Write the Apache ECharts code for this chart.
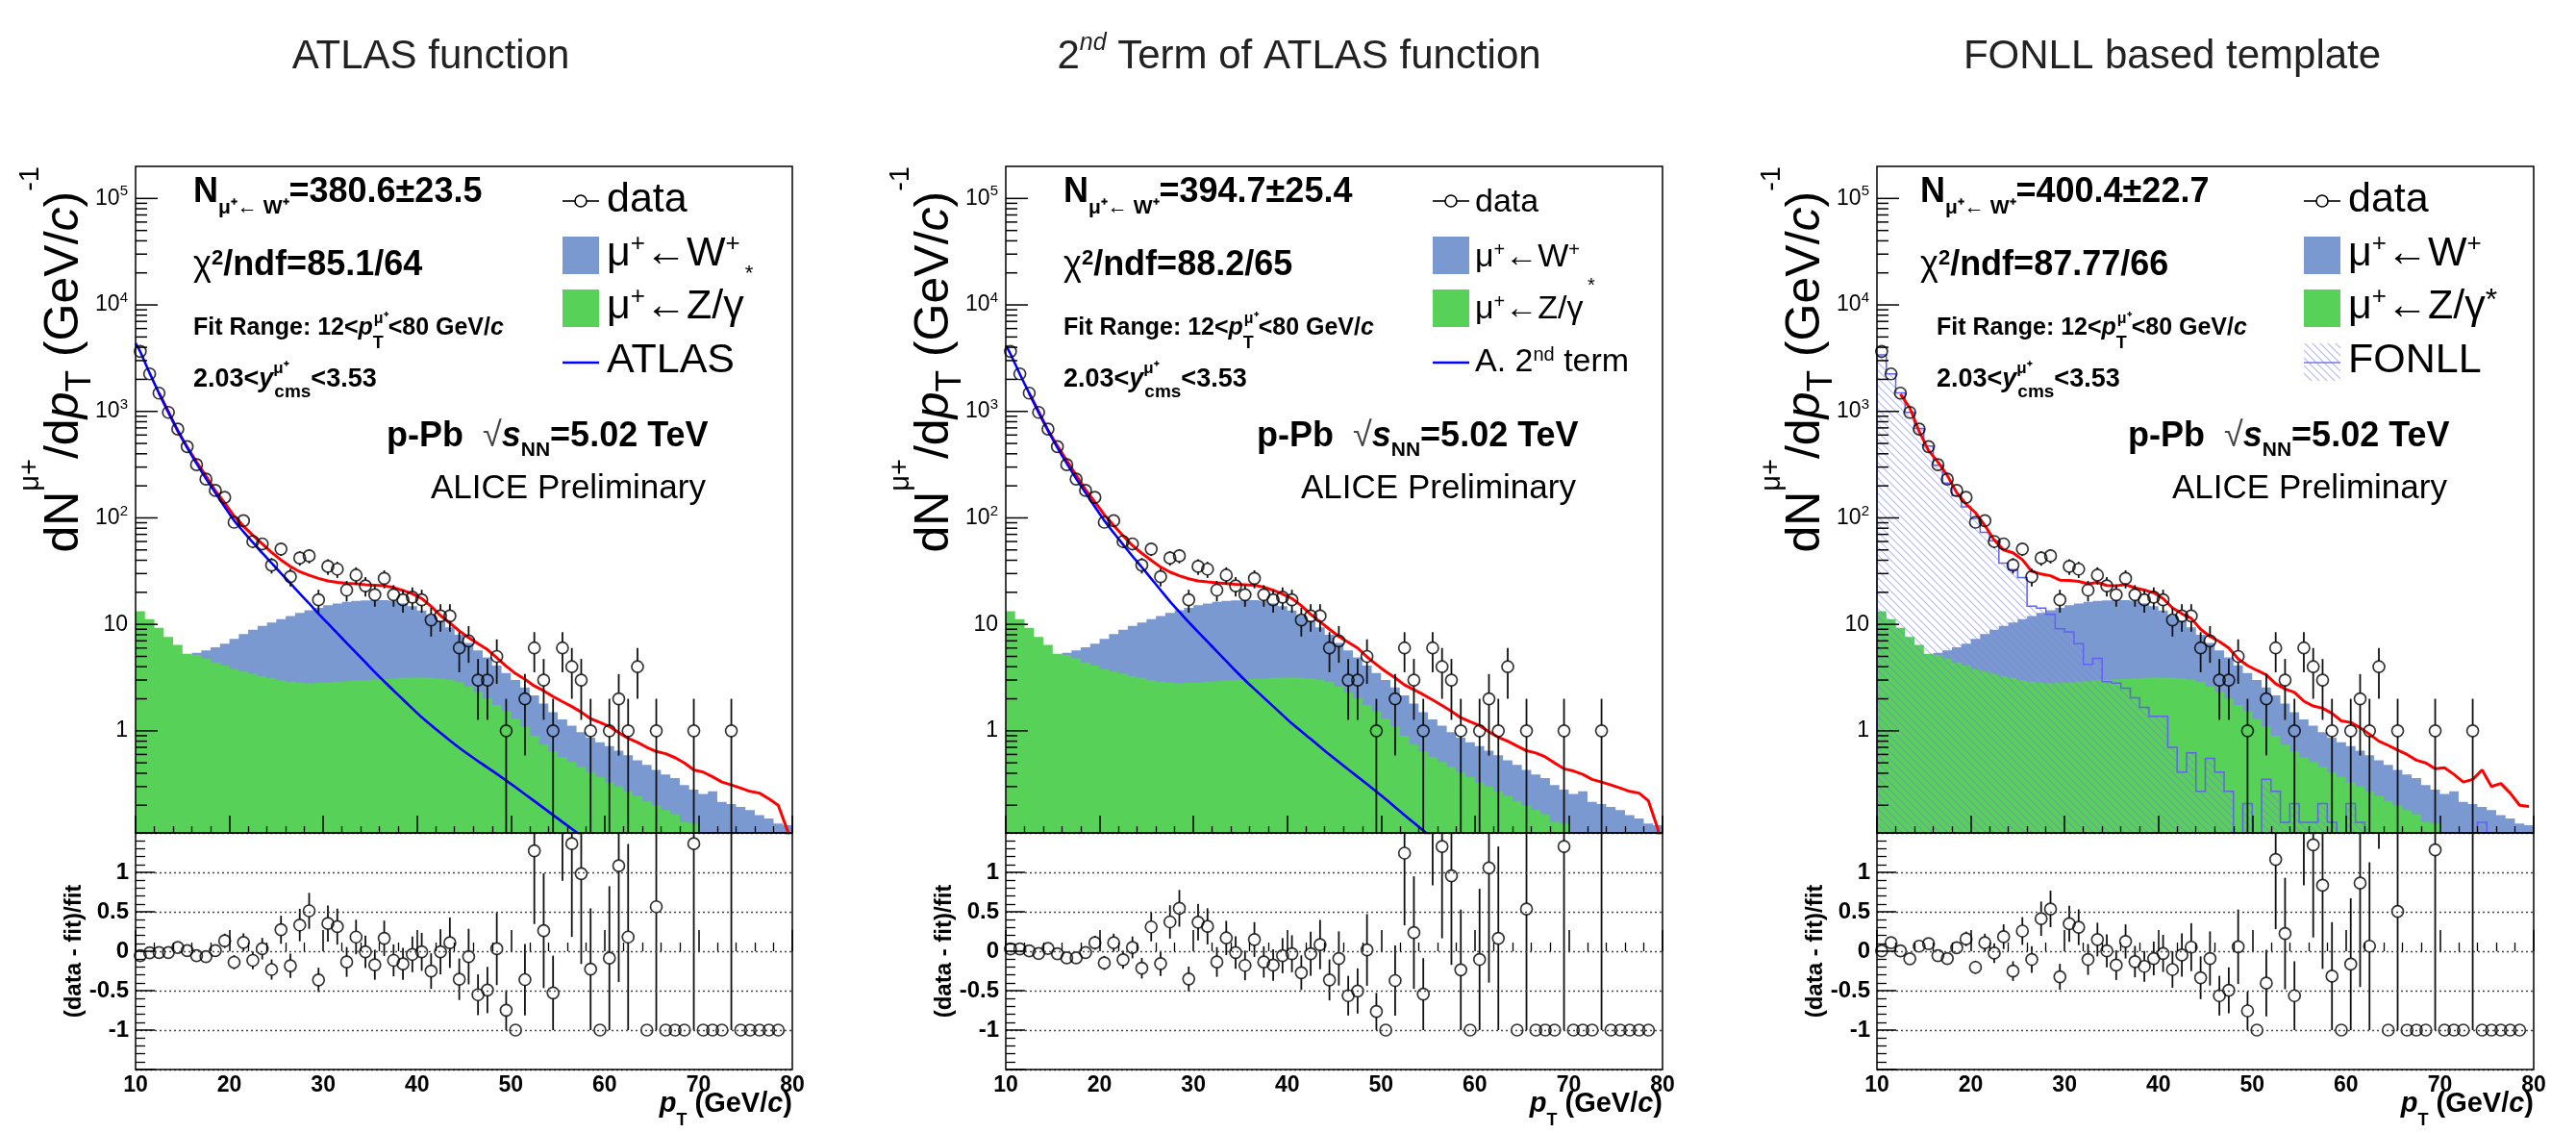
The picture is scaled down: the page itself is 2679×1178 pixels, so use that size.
<!DOCTYPE html>
<html><head><meta charset="utf-8">
<script src="https://cdn.jsdelivr.net/npm/echarts@6/dist/echarts.min.js"></script>
<style>html,body{margin:0;padding:0;background:#fff}#c{width:2679px;height:1178px}</style>
</head><body><div id="c"></div>
<script>
// ---------------- DATA ----------------
const ptCenters = [10.5,11.5,12.5,13.5,14.5,15.5,16.5,17.5,18.5,19.5,20.5,21.5,22.5,23.5,24.5,25.5,26.5,27.5,28.5,29.5,30.5,31.5,32.5,33.5,34.5,35.5,36.5,37.5,38.5,39.5,40.5,41.5,42.5,43.5,44.5,45.5,46.5,47.5,48.5,49.5,50.5,51.5,52.5,53.5,54.5,55.5,56.5,57.5,58.5,59.5,60.5,61.5,62.5,63.5,64.5,65.5,66.5,67.5,68.5,69.5,70.5,71.5,72.5,73.5,74.5,75.5,76.5,77.5,78.5,79.5];
const BIN_WIDTH = 1;
const dataCounts = [3660,2250,1485,979,683,467,316,231,181,156, 91,94,60,57,36,51,28,42,44,17, 35,33,21,29,23,19,27,19,17,18, 17,11,12,12,6,7,3,3,5,1, 0,2,6,3,1,6,4,3,1,0, 1,2,1,4,0,1,0,0,0,1, 0,0,0,1,0,0,0,0,0,0];
const wTemplate = [1.3,1.7,2.2,2.8,3.5,4.3,5.4,5.7,6.1,6.6, 7.3,8.1,8.9,9.7,10.4,11.2,12.0,12.8,13.6,14.3, 15.1,15.7,16.3,16.6,16.8,16.9,16.9,16.6,15.8,14.8, 13.5,12.1,10.8,9.4,8.0,6.7,5.7,4.9,4.1,3.5, 3.0,2.55,2.15,1.8,1.5,1.28,1.12,0.97,0.86,0.78, 0.72,0.65,0.59,0.53,0.48,0.43,0.39,0.36,0.31,0.28, 0.255,0.27,0.215,0.205,0.193,0.18,0.162,0.15,0.135,0.13];
const zTemplate = [13.3,11.2,9.3,7.6,6.4,5.3,5.15,4.8,4.4,4.1, 3.8,3.6,3.44,3.27,3.14,3.0,2.9,2.83,2.79,2.83, 2.85,2.89,2.93,2.97,3.0,3.03,3.06,3.1,3.14,3.16, 3.16,3.14,3.1,3.03,2.89,2.6,2.31,2.01,1.75,1.53, 1.3,1.1,0.9,0.74,0.64,0.57,0.51,0.46,0.41,0.37, 0.33,0.3,0.27,0.245,0.22,0.2,0.18,0.165,0.14,0.135, 0.09,0.09,0.09,0.09,0.09,0.09,0.09,0.09,0.09,0.09];
const fonllTemplate = [3400,2250,1490,980,690,472,312,212,161,127, 99,73,61,37.6,32.7,27.5,14.8,14.2,12.4,9.1, 8.5,6.6,4.2,4.8,2.9,2.8,2.52,2.04,1.66,1.37, 1.37,0.7,0.41,0.62,0.27,0.55,0.41,0.27,0.069,0.207, 0.069,0.35,0.27,0.138,0.207,0.138,0.138,0.207,0.138,0.069, 0.207,0.138,0.069,0.069,0.069,0.069,0.069,0.069,0.069,0.069, 0.069,0.069,0.069,0.069,0.138,0.069,0.069,0.069,0.069,0.069];

// total fit curves (bin centres 12.5 ... 79.5)
const fitX = [12.5,13.5,14.5,15.5,16.5,17.5,18.5,19.5,20.5,21.5,22.5,23.5,24.5,25.5,26.5,27.5,28.5,29.5,30.5,31.5,32.5,33.5,34.5,35.5,36.5,37.5,38.5,39.5,40.5,41.5,42.5,43.5,44.5,45.5,46.5,47.5,48.5,49.5,50.5,51.5,52.5,53.5,54.5,55.5,56.5,57.5,58.5,59.5,60.5,61.5,62.5,63.5,64.5,65.5,66.5,67.5,68.5,69.5,70.5,71.5,72.5,73.5,74.5,75.5,76.5,77.5,78.5,79.5];
const fitAtlas = [1490,995,652,463,335,248,180,138,104,83.5,68.5,57,47.4,40.3,35,31.2,28.9,27,25.6,24.8,24.3,24,23.6,23.3,23.0,22.2,20.8,19.4,17.5,14.8,12.1,10.3,8.7,7.5,6.6,5.8,4.86,4.05,3.45,3.05,2.64,2.38,2.1,1.88,1.69,1.5,1.3,1.2,1.1,0.96,0.85,0.78,0.7,0.64,0.61,0.56,0.5,0.43,0.41,0.37,0.33,0.31,0.29,0.27,0.26,0.23,0.2,0.115];
const fitAtlas2 = [1480,1000,665,475,345,252,184,141,107,85,68,55,46.5,40,34.5,31,28.6,26.8,25.6,25,24.5,24.2,23.8,23.6,23.3,22.4,20.9,19.3,17.5,15,12.4,10.6,9.0,7.7,6.8,6.0,4.95,4.2,3.6,3.15,2.7,2.43,2.19,1.95,1.73,1.53,1.33,1.22,1.12,0.98,0.87,0.8,0.72,0.65,0.62,0.57,0.5,0.44,0.42,0.39,0.35,0.33,0.31,0.29,0.27,0.26,0.22,0.12];
const fitFonll = [1450,1080,650,430,335,250,173,135,112,85,62,50,47,40.5,31.5,29.7,28.6,26,25.8,25.3,24,24.8,23.2,23.1,23.6,22,21,19.8,17.5,14.3,12.6,11.4,9.0,7.7,6.9,6.0,4.75,4.1,3.7,3.36,2.77,2.47,2.3,1.9,1.71,1.63,1.46,1.24,1.2,1.07,0.93,0.8,0.73,0.66,0.6,0.53,0.5,0.44,0.45,0.39,0.33,0.35,0.43,0.3,0.32,0.26,0.2,0.195];
const fitTail = [[80, 0.06], [80, 0.06], null];

// background functions
const atlasX = [10,10.5,11.5,12.5,13.5,14.5,15.5,16.5,17.5,18.5,19.5,20.5,21.5,22.5,23.5,24.5,25.5,26.5,27.5,28.5,29.5,30.5,31.5,32.5,33.5,34.5,35.5,36.5,37.5,38.5,39.5,40.5,42.5,44.5,46.5,48.5,50.5,52.5,54.5,56.5,58.5];
const atlasY = [4365,3631,2291,1479,977,661,457,324,234,172,127,94.4,74.1,58.9,46.8,37.6,30.2,24.3,19.5,15.7,12.6,10.2,8.24,6.68,5.42,4.40,3.56,2.91,2.39,1.97,1.62,1.34,0.955,0.692,0.519,0.394,0.295,0.219,0.162,0.120,0.089];
const atlas2X = [10,10.5,11.5,12.5,13.5,14.5,15.5,16.5,17.5,18.5,19.5,20.5,21.5,22.5,23.5,24.5,25.5,26.5,27.5,28.5,29.5,30.5,31.5,32.5,33.5,34.5,35.5,36.5,37.5,38.5,39.5,40.5,42.5,44.5,46.5,48.5,50.5,52.5,54.5,56.5];
const atlas2Y = [4169,3467,2239,1479,977,661,457,324,234,172,127,94.4,72.4,56.2,43.7,34.4,26.9,21.0,16.4,13.1,10.5,8.47,6.87,5.57,4.52,3.66,2.99,2.47,2.05,1.70,1.41,1.17,0.839,0.598,0.434,0.316,0.228,0.162,0.116,0.082];

// (data - fit)/fit
const ratioAtlas = [-0.056,-0.02,-0.016,-0.016,0.048,0.008,-0.056,-0.068,0.008,0.132, -0.14,0.112,-0.116,0.032,-0.232,0.272,-0.184,0.332,0.512,-0.364, 0.352,0.312,-0.136,0.18,-0.008,-0.172,0.164,-0.116,-0.16,-0.04, -0.008,-0.252,-0.008,0.108,-0.356,-0.068,-0.552,-0.492,0.032,-0.748, -1,-0.36,1.272,0.26,-0.528,2.2,1.364,0.984,-0.228,-1, -0.088,1.084,0.18,4.0,-1,0.564,-1,-1,-1,1.364, -1,-1,-1,2.3,-1,-1,-1,-1,-1,null];
const ratioAtlas2 = [0.028,0.028,0.004,-0.028,0.036,-0.032,-0.084,-0.084,-0.016,0.108, -0.148,0.108,-0.108,0.048,-0.216,0.308,-0.156,0.372,0.544,-0.352, 0.368,0.316,-0.136,0.168,-0.016,-0.18,0.148,-0.136,-0.176,-0.056, -0.032,-0.272,-0.032,0.084,-0.364,-0.092,-0.564,-0.504,0.016,-0.764, -1,-0.372,1.244,0.236,-0.544,2.1,1.328,0.956,-0.236,-1, -0.104,1.056,0.164,4.0,-1,0.536,-1,-1,-1,1.328, -1,-1,-1,2.3,-1,-1,-1,-1,-1,null];
const ratioFonll = [0.004,0.108,0.004,-0.096,0.064,0.096,-0.056,-0.092,0.044,0.156, -0.204,0.108,-0.024,0.184,-0.252,0.256,-0.104,0.412,0.536,-0.324, 0.348,0.304,-0.104,0.148,0.004,-0.176,0.124,-0.132,-0.192,-0.092, -0.028,-0.232,-0.048,0.052,-0.336,-0.092,-0.564,-0.496,0.056,-0.756, -1,-0.404,1.164,0.224,-0.564,2.1,1.348,0.836,-0.316,-1, -0.164,0.864,0.064,3.6,-1,0.504,-1,-1,-1,1.284, -1,-1,-1,2.1,-1,-1,-1,-1,-1,null];

const panelTitles = ['ATLAS function', '2nd Term of ATLAS function', 'FONLL based template'];
const nValues = ['380.6±23.5', '394.7±25.4', '400.4±22.7'];
const chi2Values = ['85.1/64', '88.2/65', '87.77/66'];
const logMajorTicks = [1, 10, 100, 1000, 10000, 100000];
const logMajorLabels = ['1', '10', '10{e|2}', '10{e|3}', '10{e|4}', '10{e|5}'];

// ---------------- LAYOUT / STYLE ----------------
const FONT = "'Liberation Sans', Arial, Helvetica, sans-serif";
const PANEL_LEFT = [141, 1046, 1952];
const PANEL_W = 683, TOP_Y = 173, TOP_H = 693, RATIO_Y = 866, RATIO_H = 246;
const YMIN = 0.11, YMAX = 2e5, RMIN = -1.5, RMAX = 1.5;
const W_COLOR = '#7a99d1', Z_COLOR = '#57d157';
const MARK_R = 6;

const logMinorTicks = [];
for (let d = -1; d <= 5; d++) for (let m = 2; m <= 9; m++) { const v = m * Math.pow(10, d); if (v > YMIN && v < YMAX) logMinorTicks.push(v); }

const hatch = document.createElement('canvas');
hatch.width = 8; hatch.height = 8;
(function(){ const c = hatch.getContext('2d'); c.strokeStyle = 'rgba(120,130,215,0.55)'; c.lineWidth = 1.2;
  c.beginPath(); c.moveTo(0,0); c.lineTo(8,8); c.moveTo(-4,4); c.lineTo(4,12); c.moveTo(4,-4); c.lineTo(12,4); c.stroke(); })();
const HATCH_FILL = {image: hatch, repeat: 'repeat'};

function clampY(v){ return Math.min(Math.max(v, YMIN), YMAX); }
function tok(size, o) { o = o || {}; const s = {fontSize: size, fontFamily: FONT, fill: o.fill || '#000', fontWeight: o.bold ? 'bold' : 'normal', fontStyle: o.it ? 'italic' : 'normal'};
  if (o.shift) s.padding = o.shift > 0 ? [2*o.shift,0,0,0] : [0,0,-2*o.shift,0];
  if (o.w != null) s.width = o.w; return s; }
function txt(x, y, text, rich, o) { o = o || {}; return {type:'text', x: x, y: y, rotation: o.rot || 0, z: 100, silent: true,
  style: {text: text, rich: rich, align: o.align || 'left', verticalAlign: 'middle', fill: '#000', fontFamily: FONT, fontSize: o.size || 20}}; }

function histPoints(api, values) {
  const pts = [];
  const lo0 = ptCenters[0] - BIN_WIDTH/2, hiN = ptCenters[ptCenters.length-1] + BIN_WIDTH/2;
  pts.push(api.coord([lo0, YMIN]));
  for (let i = 0; i < values.length; i++) {
    const v = clampY(values[i]);
    pts.push(api.coord([ptCenters[i] - BIN_WIDTH/2, v]));
    pts.push(api.coord([ptCenters[i] + BIN_WIDTH/2, v]));
  }
  pts.push(api.coord([hiN, YMIN]));
  return pts;
}
function histSeries(idx, values, fill, z, outline) {
  return {type:'custom', xAxisIndex: idx, yAxisIndex: idx, z: z, silent: true, data: [[10, 1]],
    renderItem: function(params, api){
      const pts = histPoints(api, values);
      const ch = [{type:'polygon', shape:{points: pts}, style:{fill: fill, stroke: null}}];
      if (outline) ch.push({type:'polyline', shape:{points: pts}, style:{fill: null, stroke: outline, lineWidth: 1.5}});
      return {type:'group', children: ch};
    }};
}
function errSeries(idx, items, lo, hi, z) {
  return {type:'custom', xAxisIndex: idx, yAxisIndex: idx, z: z, silent: true, data: items,
    renderItem: function(params, api){
      const cs = params.coordSys; const top = cs.y, bot = cs.y + cs.height;
      const x = api.value(0), y = api.value(1), e = api.value(2);
      const cl = v => Math.min(Math.max(v, top), bot);
      const c = api.coord([x, y]);
      const up = cl(api.coord([x, Math.min(y + e, hi)])[1]);
      const dn = cl(api.coord([x, Math.max(y - e, lo)])[1]);
      const cUp = cl(c[1] - MARK_R), cDn = cl(c[1] + MARK_R);
      const ch = [];
      if (up < cUp) ch.push({type:'line', shape:{x1:c[0], y1:up, x2:c[0], y2:cUp}, style:{stroke:'#111', lineWidth:1.8}});
      if (dn > cDn) ch.push({type:'line', shape:{x1:c[0], y1:cDn, x2:c[0], y2:dn}, style:{stroke:'#111', lineWidth:1.8}});
      return {type:'group', children: ch};
    }};
}
function scatterSeries(idx, items, z) {
  return {type:'scatter', xAxisIndex: idx, yAxisIndex: idx, z: z, silent: true, data: items, symbol:'circle', symbolSize: 2*MARK_R,
    itemStyle:{color:'rgba(0,0,0,0)', borderColor:'#000', borderWidth:1.7}, clip: true};
}

const grids = [], xAxes = [], yAxes = [], series = [], elements = [];
const fits = [fitAtlas, fitAtlas2, fitFonll];
const ratios = [ratioAtlas, ratioAtlas2, ratioFonll];
const labelRich = {e: tok(15, {shift: -7})};

for (let p = 0; p < 3; p++) {
  const L = PANEL_LEFT[p];
  const ti = 2*p, ri = 2*p + 1;
  grids.push({left: L, top: TOP_Y, width: PANEL_W, height: TOP_H, show: true, borderColor: '#000', borderWidth: 1.5, backgroundColor: 'rgba(0,0,0,0)', z: 20});
  grids.push({left: L, top: RATIO_Y, width: PANEL_W, height: RATIO_H, show: true, borderColor: '#000', borderWidth: 1.5, backgroundColor: 'rgba(0,0,0,0)', z: 20});
  xAxes.push({gridIndex: ti, type:'value', min: 10, max: 80, interval: 10, z: 15,
    axisLine:{show:false}, axisLabel:{show:false}, splitLine:{show:false},
    axisTick:{show:true, inside:true, length:18, lineStyle:{color:'#000', width:1.5}},
    minorTick:{show:true, splitNumber:5, length:7, lineStyle:{color:'#000', width:1.3}}});
  xAxes.push({gridIndex: ri, type:'value', min: 10, max: 80, interval: 10, z: 15,
    axisLine:{show:false}, splitLine:{show:false},
    axisLabel:{show:true, fontFamily: FONT, fontWeight:'bold', fontSize: 23, color:'#000', margin: 5},
    axisTick:{show:true, inside:true, length:22, lineStyle:{color:'#000', width:1.5}},
    minorTick:{show:true, splitNumber:5, length:9, lineStyle:{color:'#000', width:1.3}}});
  yAxes.push({gridIndex: ti, type:'log', logBase: 10, min: YMIN, max: YMAX,
    axisLine:{show:false}, axisTick:{show:false}, axisLabel:{show:false}, splitLine:{show:false}, minorTick:{show:false}});
  yAxes.push({gridIndex: ri, type:'value', min: RMIN, max: RMAX, interval: 0.5, z: 15,
    axisLine:{show:false},
    axisLabel:{show:true, fontFamily: FONT, fontWeight:'bold', fontSize: 24, color:'#000', margin: 7,
      formatter: v => (Math.abs(v) > 1.2 ? '' : String(v))},
    axisTick:{show:true, inside:true, length:20, lineStyle:{color:'#000', width:1.5}},
    minorTick:{show:true, splitNumber:5, length:10, lineStyle:{color:'#000', width:1.3}},
    splitLine:{show:true, lineStyle:{type:[2,3], color:'#444', width:1.3}}});

  // histograms
  series.push(histSeries(ti, wTemplate, W_COLOR, 2));
  series.push(histSeries(ti, zTemplate, Z_COLOR, 2.1));
  if (p === 2) series.push(histSeries(ti, fonllTemplate, HATCH_FILL, 3, '#6262ee'));

  // total fit
  const fitData = fitX.map((x, i) => [x, fits[p][i]]);
  if (fitTail[p]) fitData.push(fitTail[p]);
  series.push({type:'line', xAxisIndex: ti, yAxisIndex: ti, z: 4, data: fitData, symbol:'none', silent: true, clip: true,
    lineStyle:{color:'#ff0000', width:3}});
  if (p < 2) {
    const bx = p === 0 ? atlasX : atlas2X, by = p === 0 ? atlasY : atlas2Y;
    series.push({type:'line', xAxisIndex: ti, yAxisIndex: ti, z: 5, data: bx.map((x, i) => [x, by[i]]), symbol:'none', silent: true, clip: true,
      smooth: 0.3, lineStyle:{color:'#0000ff', width:2.6}});
  }
  // data
  const dItems = [];
  ptCenters.forEach((x, i) => { if (dataCounts[i] > 0) dItems.push([x, dataCounts[i], Math.sqrt(dataCounts[i])]); });
  series.push(errSeries(ti, dItems, YMIN, YMAX, 6));
  series.push(scatterSeries(ti, dItems.map(d => [d[0], d[1]]), 7));
  // ratio
  const rItems = [];
  ptCenters.forEach((x, i) => { const r = ratios[p][i]; if (r === null) return; const n = dataCounts[i];
    rItems.push([x, r, n > 0 ? (1 + r) / Math.sqrt(n) : 0]); });
  series.push(errSeries(ri, rItems, -10, 10, 6));
  series.push(scatterSeries(ri, rItems.map(d => [d[0], d[1]]), 7));

  // log axis ticks & labels
  const tickItems = logMajorTicks.map(v => [10, v, 23]).concat(logMinorTicks.map(v => [10, v, 12]));
  series.push({type:'custom', xAxisIndex: ti, yAxisIndex: ti, z: 21, silent: true, data: tickItems,
    renderItem: function(params, api){ const c = api.coord([api.value(0), api.value(1)]); const len = api.value(2);
      return {type:'line', shape:{x1:c[0], y1:c[1], x2:c[0]+len, y2:c[1]}, style:{stroke:'#000', lineWidth:1.5}}; }});
  series.push({type:'custom', xAxisIndex: ti, yAxisIndex: ti, z: 21, silent: true, data: logMajorTicks.map(v => [10, v]),
    renderItem: function(params, api){ const c = api.coord([api.value(0), api.value(1)]);
      return {type:'text', x: c[0] - 8, y: c[1], style:{text: logMajorLabels[params.dataIndex], rich: labelRich, align:'right', verticalAlign:'middle', fill:'#000', fontFamily: FONT, fontSize: 23}}; }});

  // ---- texts ----
  const titleX = [448, 1351, 2259][p];
  if (p === 1) elements.push(txt(titleX, 59, '{t|2}{s|nd}{t| Term of ATLAS function}', {t: tok(42, {fill:'#222'}), s: tok(25, {it:true, fill:'#222', shift:-14})}, {align:'center'}));
  else elements.push(txt(titleX, 59, '{t|' + panelTitles[p] + '}', {t: tok(42, {fill:'#222'})}, {align:'center'}));

  // y-axis titles
  elements.push(txt(L - 74, TOP_Y, '{n|dN}{sp|μ+}{n|/d}{i|p}{sb|T}{n| (GeV/}{i|c}{n|)}{sp|-1}',
    {n: tok(50), i: tok(50, {it:true}), sp: tok(29, {shift:-35}), sb: tok(37, {shift:17})}, {rot: Math.PI/2, align:'right'}));
  elements.push(txt(L - 64, 989, '{b|(data - fit)/fit}', {b: tok(24, {bold:true})}, {rot: Math.PI/2, align:'center'}));
  elements.push(txt(L + PANEL_W, 1148, '{i|p}{sb|T}{b| (GeV/}{i|c}{b|)}', {b: tok(29, {bold:true}), i: tok(29, {bold:true, it:true}), sb: tok(18, {bold:true, shift:17})}, {align:'right'}));

  // annotations
  const ax = L + (p === 2 ? 45 : 60), ax2 = L + (p === 2 ? 62 : 60);
  elements.push(txt(ax, 200, '{b|N}{sb|μ⁺← W⁺}{b|=' + nValues[p] + '}', {b: tok(36, {bold:true}), sb: tok(21, {bold:true, shift:16})}));
  elements.push(txt(ax, 276, '{g|χ}{sp|2}{b|/ndf=' + chi2Values[p] + '}', {b: tok(36, {bold:true}), g: tok(36), sp: tok(22, {bold:true, shift:-7})}));
  elements.push(txt(ax2, 341, '{s|Fit Range: 12<}{si|p}{tz|T}{mu|μ⁺}{s|<80 GeV/}{si|c}',
    {s: tok(25, {bold:true}), si: tok(25, {bold:true, it:true}), tz: tok(18, {bold:true, shift:16, w:1}), mu: tok(16, {bold:true, shift:-9})}));
  elements.push(txt(ax2, 395, '{s|2.03<}{si|y}{mz|μ⁺}{cm|cms}{s|<3.53}',
    {s: tok(27, {bold:true}), si: tok(27, {bold:true, it:true}), mz: tok(17, {bold:true, shift:-12, w:1}), cm: tok(19, {bold:true, shift:13})}));
  elements.push(txt(L + 261, 454, '{b|p-Pb  }{r|√}{bi|s}{sb|NN}{b|=5.02 TeV}',
    {b: tok(36, {bold:true}), bi: tok(36, {bold:true, it:true}), r: tok(36, {fill:'#444'}), sb: tok(21, {bold:true, shift:14})}));
  elements.push(txt(L + 307, 508, '{n|ALICE Preliminary}', {n: tok(35)}));

  // legend
  const S = p === 1 ? 34 : 43;
  const lr = {n: tok(S), sp: tok(Math.round(S*0.6), {shift: p === 1 ? -8 : -10}), st: tok(Math.round(S*0.75), {shift: -6})};
  const bx0 = L + 444, bx1 = L + 482, tx = L + (p === 1 ? 488 : 490);
  const rows = p === 1 ? [211, 268, 322, 377] : [208, 264, 319, 375];
  // data entry
  elements.push({type:'line', z:100, shape:{x1:bx0, y1:209, x2:L+463-MARK_R, y2:209}, style:{stroke:'#000', lineWidth:1.6}});
  elements.push({type:'line', z:100, shape:{x1:L+463+MARK_R, y1:209, x2:bx1, y2:209}, style:{stroke:'#000', lineWidth:1.6}});
  elements.push({type:'circle', z:100, shape:{cx:L+463, cy:209, r:MARK_R}, style:{fill:'none', stroke:'#000', lineWidth:1.6}});
  elements.push(txt(tx, rows[0], '{n|data}', lr));
  elements.push({type:'rect', z:100, shape:{x:bx0, y:246, width:38, height:39}, style:{fill:W_COLOR}});
  elements.push(txt(tx, rows[1], '{n|μ}{sp|+}{n|←W}{sp|+}', lr));
  elements.push({type:'rect', z:100, shape:{x:bx0, y:301, width:38, height:39}, style:{fill:Z_COLOR}});
  elements.push(txt(tx, rows[2], p === 2 ? '{n|μ}{sp|+}{n|←Z/γ}{st|*}' : '{n|μ}{sp|+}{n|←Z/γ}', lr));
  if (p === 2) {
    elements.push({type:'rect', z:100, shape:{x:bx0, y:357, width:38, height:39}, style:{fill:HATCH_FILL}});
    elements.push({type:'line', z:101, shape:{x1:bx0, y1:377, x2:bx1, y2:377}, style:{stroke:'#7777ee', lineWidth:1.5}});
    elements.push(txt(tx, rows[3], '{n|FONLL}', lr));
  } else {
    elements.push({type:'line', z:100, shape:{x1:bx0, y1:377, x2:bx1, y2:377}, style:{stroke:'#0000ff', lineWidth:2.6}});
    elements.push(txt(tx, rows[3], p === 1 ? '{n|A. 2}{sp|nd}{n| term}' : '{n|ATLAS}', lr));
  }
  if (p === 0) elements.push(txt(779, 285, '{n|*}', {n: tok(22)}, {align:'center'}));
  if (p === 1) elements.push(txt(1655, 297, '{n|*}', {n: tok(20)}, {align:'center'}));
}

const chart = echarts.init(document.getElementById('c'), null, {renderer:'canvas', width:2679, height:1178});
chart.setOption({
  animation: false,
  backgroundColor: '#fff',
  grid: grids, xAxis: xAxes, yAxis: yAxes, series: series,
  graphic: {elements: elements}
});
</script></body></html>
